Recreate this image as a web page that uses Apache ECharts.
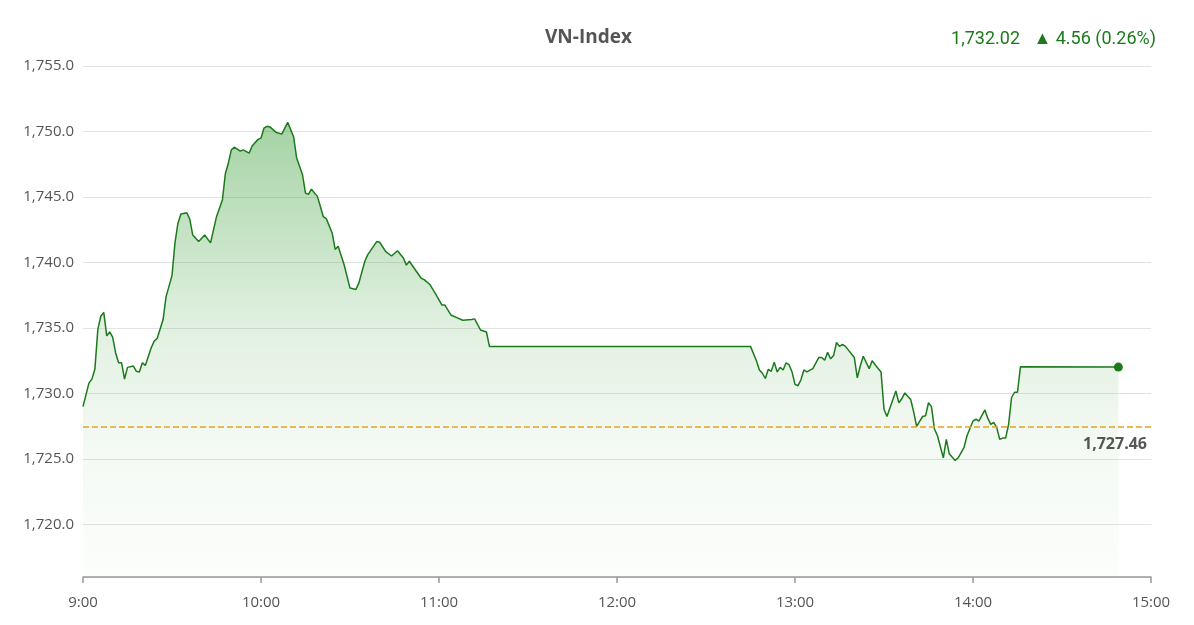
<!DOCTYPE html>
<html>
<head>
<meta charset="utf-8">
<script src="https://cdn.jsdelivr.net/npm/echarts@6/dist/echarts.min.js"></script>
<style>
html,body{margin:0;padding:0;background:#fff;}
#chart{width:1194px;height:625px;}
</style>
</head>
<body>
<div id="chart"></div>
<script>
const titleText = "VN-Index";
const lastText = "1,732.02";
const changeText = "▲ 4.56 (0.26%)";
const refValue = 1727.46;
const xTickLabels = ["9:00","10:00","11:00","12:00","13:00","14:00","15:00"];

const times = ["9:00","9:02","9:03","9:04","9:05","9:06","9:07","9:08","9:09","9:10","9:11","9:12","9:13","9:14","9:15","9:17","9:18","9:19","9:20","9:21","9:23","9:24","9:25","9:27","9:28","9:30","9:31","9:32","9:33","9:35","9:36","9:37","9:39","9:41","9:43","9:45","9:47","9:48","9:49","9:50","9:51","9:53","9:54","9:56","9:57","9:59",
"10:00","10:01","10:02","10:03","10:05","10:07","10:09","10:11","10:12","10:14","10:15","10:16","10:17","10:19","10:20","10:21","10:22","10:24","10:25","10:26","10:28","10:30","10:32","10:33","10:35","10:36","10:39","10:40","10:42","10:44","10:46","10:48","10:49","10:50","10:52","10:54","10:55","10:57","10:59",
"11:01","11:02","11:04","11:06","11:08","11:11","11:12","11:14","11:16","11:17",
"12:45","12:47","12:48","12:49","12:50","12:51","12:52","12:53","12:54","12:55","12:56","12:57","12:58","12:59",
"13:00","13:01","13:02","13:03","13:04","13:06","13:08","13:09","13:10","13:11","13:12","13:13","13:14","13:15","13:16","13:17","13:20","13:21","13:22","13:23","13:25","13:26","13:27","13:29","13:30","13:31","13:32","13:34","13:35","13:36","13:37","13:39","13:40","13:41","13:43","13:44","13:45","13:46","13:47","13:48","13:50","13:51","13:52","13:54","13:55","13:57","13:58",
"14:00","14:01","14:02","14:04","14:05","14:06","14:07","14:08","14:09","14:10","14:11","14:12","14:13","14:14","14:15","14:16","14:49"];

const values = [1729.0,1730.8,1731.1,1731.85,1734.9,1735.9,1736.2,1734.4,1734.7,1734.3,1733.1,1732.35,1732.35,1731.1,1732.0,1732.1,1731.7,1731.65,1732.35,1732.15,1733.5,1734.0,1734.2,1735.65,1737.4,1739.0,1741.5,1743.0,1743.7,1743.8,1743.3,1742.1,1741.6,1742.1,1741.5,1743.5,1744.8,1746.8,1747.6,1748.6,1748.8,1748.5,1748.6,1748.35,1748.9,1749.4,
1749.5,1750.25,1750.4,1750.35,1749.95,1749.8,1750.7,1749.6,1748.0,1746.7,1745.3,1745.2,1745.6,1745.05,1744.3,1743.5,1743.35,1742.25,1741.0,1741.25,1739.85,1738.05,1737.95,1738.45,1740.1,1740.6,1741.6,1741.55,1740.85,1740.5,1740.9,1740.35,1739.8,1740.1,1739.45,1738.8,1738.7,1738.3,1737.55,
1736.75,1736.75,1736.0,1735.8,1735.6,1735.65,1735.7,1734.85,1734.7,1733.6,
1733.6,1732.5,1731.8,1731.55,1731.15,1731.85,1731.7,1732.4,1731.65,1732.0,1731.8,1732.35,1732.2,1731.65,
1730.7,1730.6,1731.05,1731.8,1731.65,1731.9,1732.75,1732.75,1732.55,1733.15,1732.65,1732.9,1733.9,1733.6,1733.75,1733.6,1732.75,1731.2,1732.1,1732.85,1731.9,1732.5,1732.2,1731.65,1728.8,1728.25,1728.9,1730.2,1729.3,1729.6,1730.05,1729.55,1728.6,1727.5,1728.25,1728.3,1729.3,1729.0,1727.3,1726.8,1725.1,1726.5,1725.4,1724.9,1725.1,1725.9,1726.8,
1727.9,1728.05,1727.9,1728.75,1728.1,1727.65,1727.8,1727.4,1726.5,1726.6,1726.6,1727.65,1729.7,1730.1,1730.1,1732.05,1732.02];

function toMin(t){const p=t.split(':');return (parseInt(p[0],10)-9)*60+parseInt(p[1],10);}
const seriesData = times.map((t,i)=>[toMin(t), values[i]]);
const lastPoint = seriesData[seriesData.length-1];

const green = '#1c7a1c';
const chart = echarts.init(document.getElementById('chart'));
chart.setOption({
  animation:false,
  backgroundColor:'#fff',
  textStyle:{fontFamily:'"Open Sans", sans-serif'},
  title:[
    {text:titleText,left:540,top:23,textStyle:{fontSize:19,fontWeight:'bold',color:'#555',fontFamily:'"Open Sans", sans-serif'}},
    {text:lastText+'   '+changeText,right:33,top:25,textStyle:{fontSize:18,fontWeight:'normal',color:green,fontFamily:'Roboto, sans-serif'}}
  ],
  grid:{left:83,right:43,top:66,bottom:48,containLabel:false},
  xAxis:{
    type:'value',min:0,max:360,interval:60,
    axisLine:{show:true,lineStyle:{color:'#999',width:1.5}},
    axisTick:{show:true,length:6,lineStyle:{color:'#999',width:1.5}},
    splitLine:{show:false},
    axisLabel:{color:'#555',fontSize:15,margin:18,formatter:function(v){return xTickLabels[Math.round(v/60)];}}
  },
  yAxis:{
    type:'value',min:1716,max:1755,splitNumber:8,
    axisLine:{show:false},axisTick:{show:false},
    splitLine:{show:true,lineStyle:{color:'#e3e3e3',width:1.2}},
    axisLabel:{color:'#555',fontSize:15,margin:9,showMinLabel:false,
      formatter:function(v){return v.toLocaleString('en-US',{minimumFractionDigits:1,maximumFractionDigits:1});}}
  },
  series:[
    {
      type:'line',data:seriesData,showSymbol:false,symbol:'none',
      lineStyle:{color:green,width:1.5},
      itemStyle:{color:green},
      areaStyle:{color:new echarts.graphic.LinearGradient(0,0,0,1,[
        {offset:0,color:'rgba(40,150,40,0.6)'},
        {offset:0.45,color:'rgba(40,150,40,0.2)'},
        {offset:0.7,color:'rgba(40,150,40,0.08)'},
        {offset:1,color:'rgba(40,150,40,0.02)'}
      ])},
      markLine:{
        silent:true,symbol:['none','none'],
        lineStyle:{color:'#e9a21b',type:'dashed',width:1.5,opacity:1},
        emphasis:{disabled:true},
        label:{show:true,position:'insideEndBottom',formatter:function(){return refValue.toLocaleString('en-US',{minimumFractionDigits:2});},
          color:'#555',fontWeight:'bold',fontSize:16,distance:[4,10]},
        data:[{yAxis:refValue,lineStyle:{color:'#e9a21b',type:'dashed',width:1.5}}]
      }
    },
    {
      type:'scatter',data:[lastPoint],symbol:'circle',symbolSize:9,
      itemStyle:{color:green,opacity:1},silent:true,z:5
    }
  ]
});
</script>
</body>
</html>
